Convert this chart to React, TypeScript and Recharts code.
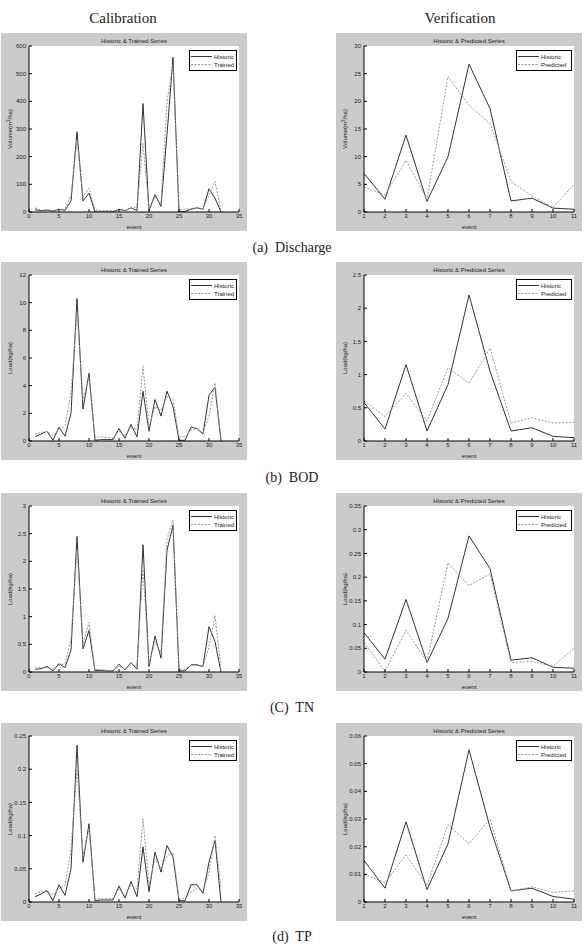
import React from 'react';
import { LineChart, Line, XAxis, YAxis, CartesianGrid, Legend } from 'recharts';

// events
const calEvents = Array.from({ length: 32 }, (_, i) => i + 1);
const verEvents = Array.from({ length: 11 }, (_, i) => i + 1);

// (a) Discharge
const dischargeCalHistoric = [8, 5, 7, 3, 10, 6, 40, 290, 40, 68, 0, 0, 0, 0, 10, 5, 15, 5, 392, 5, 63, 20, 280, 559, 0, 2, 10, 15, 10, 84, 50, 0];
const dischargeCalTrained = [15, 6, 8, 6, 8, 10, 60, 260, 55, 87, 8, 5, 5, 5, 8, 6, 12, 20, 248, 10, 55, 30, 400, 531, 8, 10, 12, 15, 12, 60, 111, 5];
const dischargeVerHistoric = [7, 2.3, 13.9, 1.9, 10, 26.7, 18.7, 2, 2.5, 0.7, 0.5];
const dischargeVerPredicted = [4.5, 3.1, 9.3, 2.3, 24.5, 19.3, 16, 5.5, 2.9, 0.8, 5];

// (b) BOD
const bodCalHistoric = [0.3, 0.5, 0.7, 0.05, 1.0, 0.35, 2.0, 10.3, 2.3, 4.9, 0.05, 0.1, 0.1, 0.1, 0.9, 0.2, 1.2, 0.3, 3.6, 0.7, 3.0, 1.8, 3.6, 2.5, 0.05, 0.05, 1.0, 0.9, 0.5, 3.3, 3.9, 0];
const bodCalTrained = [0.5, 0.6, 0.7, 0.4, 0.8, 1.1, 3.5, 9.3, 3.0, 4.6, 0.3, 0.3, 0.25, 0.2, 0.7, 0.4, 1.0, 0.8, 5.4, 1.0, 2.5, 2.2, 3.2, 3.0, 0.3, 0.3, 0.8, 0.9, 0.6, 1.8, 4.2, 0.1];
const bodVerHistoric = [0.58, 0.18, 1.15, 0.15, 0.85, 2.2, 1.05, 0.15, 0.2, 0.07, 0.05];
const bodVerPredicted = [0.6, 0.37, 0.72, 0.3, 1.1, 0.87, 1.4, 0.27, 0.35, 0.27, 0.28];

// (c) TN
const tnCalHistoric = [0.05, 0.06, 0.1, 0.02, 0.15, 0.08, 0.4, 2.45, 0.42, 0.75, 0.02, 0.03, 0.02, 0.02, 0.14, 0.04, 0.17, 0.05, 2.3, 0.1, 0.65, 0.25, 2.2, 2.65, 0.02, 0.02, 0.13, 0.13, 0.1, 0.82, 0.55, 0];
const tnCalTrained = [0.07, 0.08, 0.08, 0.05, 0.12, 0.15, 0.6, 2.2, 0.5, 0.9, 0.05, 0.04, 0.03, 0.03, 0.1, 0.05, 0.15, 0.1, 1.85, 0.15, 0.55, 0.35, 2.4, 2.75, 0.05, 0.05, 0.12, 0.12, 0.1, 0.45, 1.02, 0.05];
const tnVerHistoric = [0.083, 0.027, 0.153, 0.02, 0.113, 0.287, 0.218, 0.025, 0.03, 0.01, 0.008];
const tnVerPredicted = [0.062, 0.002, 0.088, 0.022, 0.23, 0.182, 0.207, 0.02, 0.022, 0.012, 0.05];

// (d) TP
const tpCalHistoric = [0.008, 0.012, 0.017, 0.002, 0.026, 0.01, 0.05, 0.236, 0.06, 0.118, 0.002, 0.003, 0.003, 0.003, 0.024, 0.006, 0.031, 0.008, 0.083, 0.015, 0.075, 0.045, 0.085, 0.068, 0.002, 0.002, 0.026, 0.026, 0.013, 0.06, 0.093, 0];
const tpCalTrained = [0.012, 0.016, 0.017, 0.01, 0.02, 0.025, 0.08, 0.2, 0.07, 0.11, 0.005, 0.005, 0.005, 0.005, 0.02, 0.01, 0.025, 0.02, 0.125, 0.025, 0.065, 0.05, 0.07, 0.075, 0.005, 0.005, 0.015, 0.02, 0.015, 0.045, 0.1, 0.02];
const tpVerHistoric = [0.015, 0.005, 0.029, 0.0045, 0.021, 0.055, 0.027, 0.004, 0.005, 0.002, 0.001];
const tpVerPredicted = [0.01, 0.007, 0.017, 0.006, 0.028, 0.021, 0.03, 0.004, 0.0055, 0.0035, 0.004];

// tick labels
const calXTicks = [0, 5, 10, 15, 20, 25, 30, 35];
const verXTicks = [1, 2, 3, 4, 5, 6, 7, 8, 9, 10, 11];
const dischargeCalYTicks = [0, 100, 200, 300, 400, 500, 600];
const dischargeVerYTicks = [0, 5, 10, 15, 20, 25, 30];
const bodCalYTicks = [0, 2, 4, 6, 8, 10, 12];
const bodVerYTicks = [0, 0.5, 1, 1.5, 2, 2.5];
const tnCalYTicks = [0, 0.5, 1, 1.5, 2, 2.5, 3];
const tnVerYTicks = [0, 0.05, 0.1, 0.15, 0.2, 0.25, 0.3, 0.35];
const tpCalYTicks = [0, 0.05, 0.1, 0.15, 0.2, 0.25];
const tpVerYTicks = [0, 0.01, 0.02, 0.03, 0.04, 0.05, 0.06];

const rowLabels = ['(a)  Discharge', '(b)  BOD', '(C)  TN', '(d)  TP'];

const GRAY = '#cbcbcb';
const SANS = '"Liberation Sans", Arial, sans-serif';
const SERIF = '"Liberation Serif", "DejaVu Serif", "Times New Roman", serif';
const HIST_COLOR = '#333';
const MODEL_COLOR = '#999';
const SMALL = 6;

const PANEL_W = 246;
const PANEL_H = 198;
const ROW_TOPS = [33, 262, 493, 723];
const LEFT_X = 1;
const RIGHT_X = 336;
const PLOT = { l: 28, r: 8, t: 13, b: 19 };

const makeRows = (events: number[], historic: number[], model: number[]) =>
  events.map((e, i) => ({ event: e, historic: historic[i], model: model[i] }));

const tickStyle = { fontSize: SMALL, fill: '#222', fontFamily: SANS };

const LegendBox = ({ name, w }: { name: string; w: number }) => (
  <svg width={w} height={21} style={{ display: 'block' }}>
    <rect x={0.5} y={0.5} width={w - 1} height={20} fill="#fff" stroke="#000" />
    <line x1={2} x2={23} y1={6.5} y2={6.5} stroke={HIST_COLOR} strokeWidth={1} />
    <text x={25} y={6.5} dominantBaseline="central" fontSize={SMALL} fontFamily={SANS} fill="#222">Historic</text>
    <line x1={2} x2={23} y1={14.5} y2={14.5} stroke={MODEL_COLOR} strokeWidth={1} strokeDasharray="2 1.5" />
    <text x={25} y={14.5} dominantBaseline="central" fontSize={SMALL} fontFamily={SANS} fill="#222">{name}</text>
  </svg>
);

type PanelProps = {
  x: number;
  y: number;
  title: string;
  modelName: string;
  yLabel: 'volume' | 'load';
  data: any[];
  xDomain: [number, number];
  xTicks: number[];
  yTicks: number[];
};

const Panel = ({ x, y, title, modelName, yLabel, data, xDomain, xTicks, yTicks }: PanelProps) => {
  const yDomain: [number, number] = [yTicks[0], yTicks[yTicks.length - 1]];
  const midY = PLOT.t + (PANEL_H - PLOT.t - PLOT.b) / 2;
  const boxW = modelName === 'Trained' ? 48 : 56;
  const yLabelNode = () => (
    <text
      transform={`translate(9, ${midY}) rotate(-90)`}
      textAnchor="middle"
      dominantBaseline="central"
      fontSize={SMALL}
      fontFamily={SANS}
      fill="#222"
    >
      {yLabel === 'volume' ? (
        <>
          <tspan>Volume(m</tspan>
          <tspan dy={-2} fontSize={4.5}>3</tspan>
          <tspan dy={2}>/ha)</tspan>
        </>
      ) : (
        'Load(kg/ha)'
      )}
    </text>
  );

  return (
    <div style={{ position: 'absolute', left: x, top: y, width: PANEL_W, height: PANEL_H, background: GRAY }}>
      <div
        style={{
          position: 'absolute',
          left: PLOT.l,
          width: PANEL_W - PLOT.l - PLOT.r,
          top: PLOT.t - 9,
          height: 8,
          lineHeight: '8px',
          textAlign: 'center',
          fontSize: SMALL,
          fontFamily: SANS,
          color: '#222',
        }}
      >
        {title}
      </div>
      <LineChart width={PANEL_W} height={PANEL_H} data={data} margin={{ top: PLOT.t, right: PLOT.r, bottom: 0, left: 0 }}>
        <CartesianGrid fill="#fff" horizontal={false} vertical={false} />
        <XAxis
          dataKey="event"
          type="number"
          domain={xDomain}
          ticks={xTicks}
          interval={0}
          allowDataOverflow
          height={PLOT.b}
          tickSize={-3}
          tickMargin={5}
          stroke="#000"
          tick={tickStyle}
          label={{ value: 'event', position: 'insideBottom', offset: 2, fontSize: SMALL, fill: '#222', fontFamily: SANS }}
        />
        <XAxis
          xAxisId="top"
          orientation="top"
          dataKey="event"
          type="number"
          domain={xDomain}
          ticks={xTicks}
          interval={0}
          allowDataOverflow
          height={0}
          tickSize={-3}
          stroke="#000"
          tick={() => <g />}
        />
        <YAxis
          type="number"
          domain={yDomain}
          ticks={yTicks}
          interval={0}
          allowDataOverflow
          width={PLOT.l}
          tickSize={-3}
          tickMargin={6}
          stroke="#000"
          tick={tickStyle}
          label={{ content: yLabelNode }}
        />
        <YAxis
          yAxisId="right"
          orientation="right"
          type="number"
          domain={yDomain}
          ticks={yTicks}
          interval={0}
          allowDataOverflow
          width={0}
          tickSize={-3}
          stroke="#000"
          tick={() => <g />}
        />
        <Line
          type="linear"
          dataKey="historic"
          name="Historic"
          stroke={HIST_COLOR}
          strokeWidth={1}
          dot={false}
          isAnimationActive={false}
        />
        <Line
          type="linear"
          dataKey="model"
          name={modelName}
          stroke={MODEL_COLOR}
          strokeWidth={1}
          strokeDasharray="2 1.5"
          dot={false}
          isAnimationActive={false}
        />
        <Legend
          layout="horizontal"
          verticalAlign="middle"
          align="center"
          wrapperStyle={{ top: PLOT.t + 4, left: PANEL_W - PLOT.r - 2 - boxW, width: boxW, height: 21 }}
          content={() => <LegendBox name={modelName} w={boxW} />}
        />
      </LineChart>
    </div>
  );
};

const charts = [
  {
    yLabel: 'volume' as const,
    cal: makeRows(calEvents, dischargeCalHistoric, dischargeCalTrained),
    ver: makeRows(verEvents, dischargeVerHistoric, dischargeVerPredicted),
    calY: dischargeCalYTicks,
    verY: dischargeVerYTicks,
  },
  {
    yLabel: 'load' as const,
    cal: makeRows(calEvents, bodCalHistoric, bodCalTrained),
    ver: makeRows(verEvents, bodVerHistoric, bodVerPredicted),
    calY: bodCalYTicks,
    verY: bodVerYTicks,
  },
  {
    yLabel: 'load' as const,
    cal: makeRows(calEvents, tnCalHistoric, tnCalTrained),
    ver: makeRows(verEvents, tnVerHistoric, tnVerPredicted),
    calY: tnCalYTicks,
    verY: tnVerYTicks,
  },
  {
    yLabel: 'load' as const,
    cal: makeRows(calEvents, tpCalHistoric, tpCalTrained),
    ver: makeRows(verEvents, tpVerHistoric, tpVerPredicted),
    calY: tpCalYTicks,
    verY: tpVerYTicks,
  },
];

const rowLabelY = [248, 478, 708, 937];

const CenterText = ({ cx, cy, size, children }: { cx: number; cy: number; size: number; children: React.ReactNode }) => (
  <div
    style={{
      position: 'absolute',
      left: cx - 120,
      top: cy - size * 0.6,
      width: 240,
      textAlign: 'center',
      fontFamily: SERIF,
      fontSize: size,
      lineHeight: `${size * 1.2}px`,
      color: '#222',
      whiteSpace: 'pre',
    }}
  >
    {children}
  </div>
);

export default function App() {
  return (
    <div style={{ position: 'absolute', left: 0, top: 0, width: 586, height: 951, background: '#fff', overflow: 'hidden' }}>
      <CenterText cx={123} cy={18} size={15}>Calibration</CenterText>
      <CenterText cx={460} cy={18} size={15}>Verification</CenterText>
      {charts.map((c, i) => (
        <React.Fragment key={i}>
          <Panel
            x={LEFT_X}
            y={ROW_TOPS[i]}
            title="Historic & Trained Series"
            modelName="Trained"
            yLabel={c.yLabel}
            data={c.cal}
            xDomain={[0, 35]}
            xTicks={calXTicks}
            yTicks={c.calY}
          />
          <Panel
            x={RIGHT_X}
            y={ROW_TOPS[i]}
            title="Historic & Predicted Series"
            modelName="Predicted"
            yLabel={c.yLabel}
            data={c.ver}
            xDomain={[1, 11]}
            xTicks={verXTicks}
            yTicks={c.verY}
          />
          <CenterText cx={292} cy={rowLabelY[i]} size={14}>{rowLabels[i]}</CenterText>
        </React.Fragment>
      ))}
    </div>
  );
}
